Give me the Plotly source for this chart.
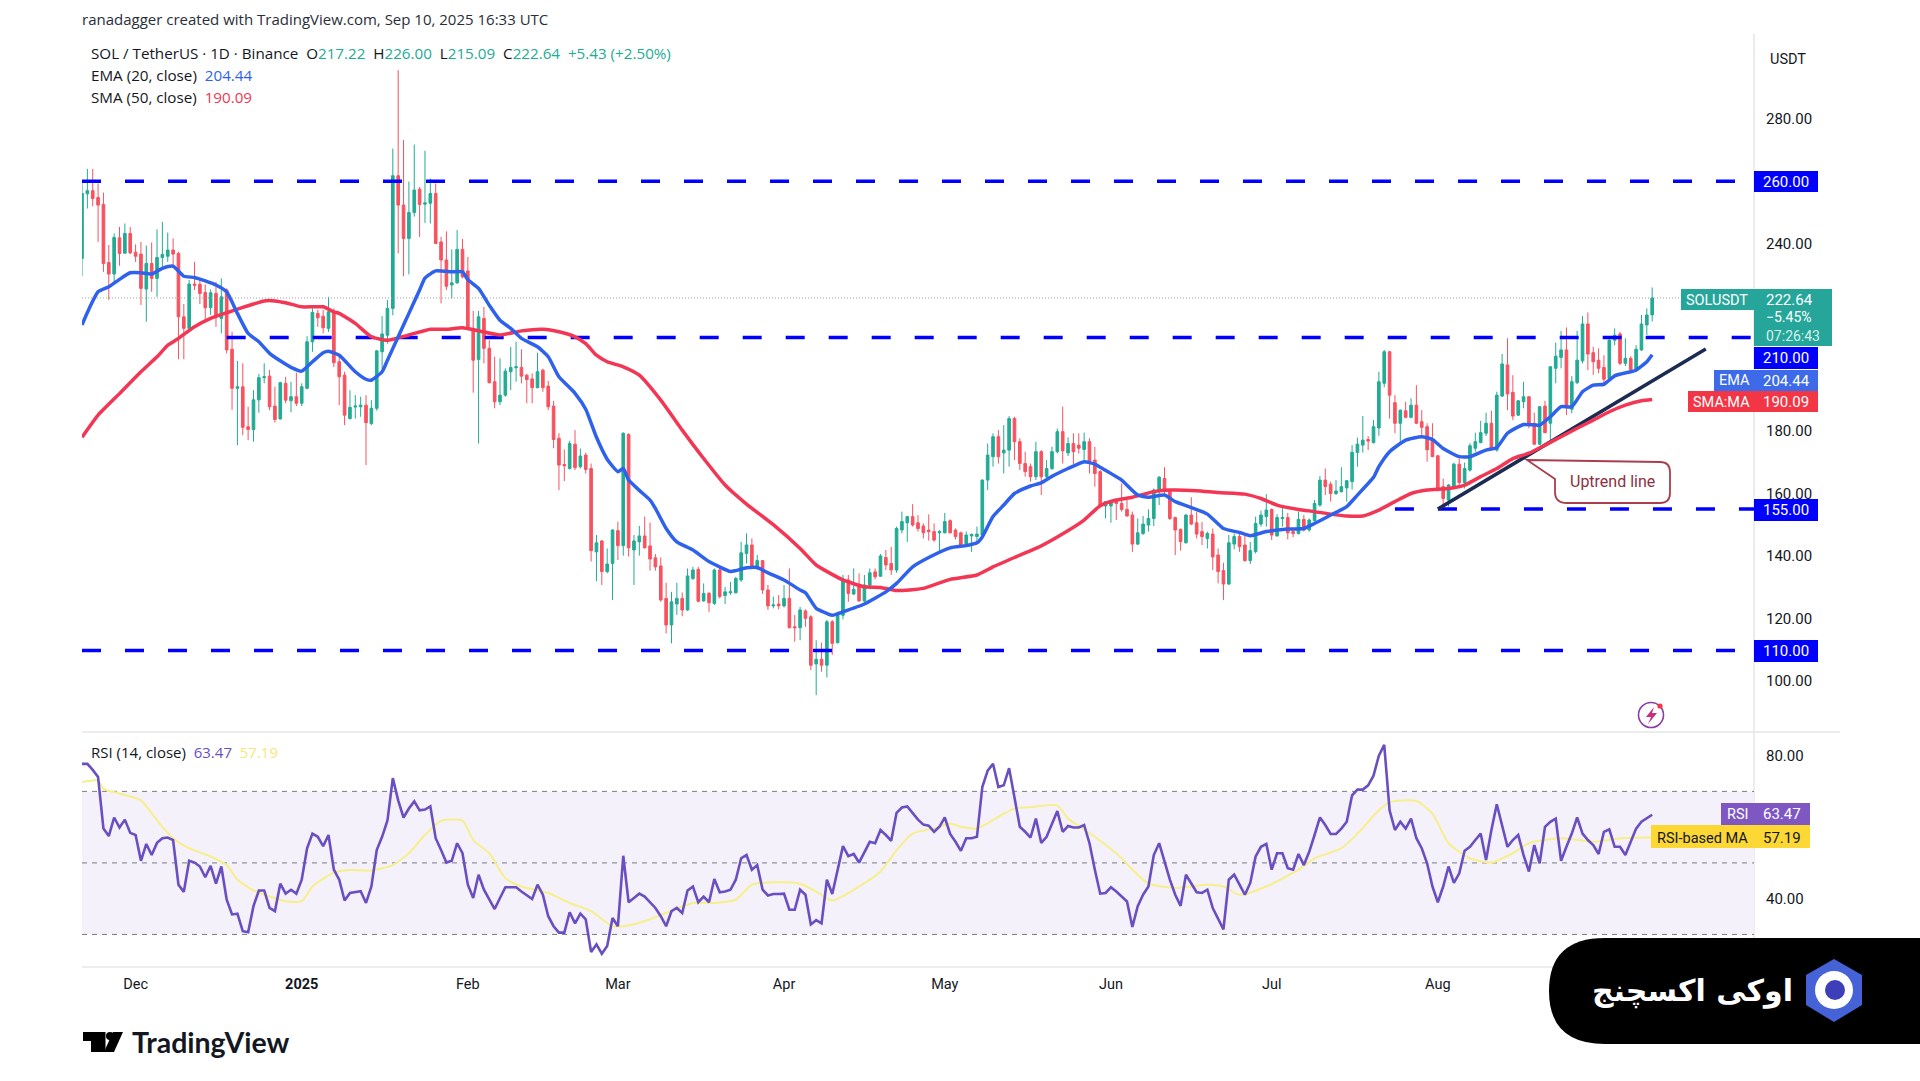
import pandas as pd
import plotly.graph_objects as go

first_day = "2024-11-21"
open_ = [
235.3,256,257,254.8,252.6,234,230.3,241.9,237,243.3,
237.3,236.7,225.5,233.7,228.9,235.6,236,238,236.9,216.6,
212.9,227.1,227,224.4,219.5,224.1,216.1,225.2,206.2,193.7,
194.2,181.4,180.5,190,197.1,197.6,188,183.9,195.3,189.7,
191,188.9,193.7,208.6,217.7,216.8,212.9,217.9,202.2,197.9,
184,187.7,187.8,188.3,182.4,187.3,205.4,210.7,219.3,261.8,
252.4,241.7,250,257.5,252.7,253,256.1,240.6,234.8,226.8,
227.5,238.2,231.3,212.9,202.9,216.1,206.5,195.8,189.4,191.5,
199,200.3,200.4,197.9,196.7,193.9,199.5,194.4,188,177.7,
169.3,168,175.8,168.6,172.3,168,141.3,144.8,135,137.6,
148.1,143.3,178.9,141.9,144.5,146.4,143.2,139.4,136.8,126.4,
117.9,124.6,126.4,122.7,132.8,135.7,125.6,128,124.8,135.5,
127.3,128.2,128.2,132.3,140.8,143.5,136.5,138.5,129.1,124,
124.6,124,126.4,117.3,117,122.4,120.5,105.4,106.9,105,
118.9,112.2,121,132.3,127.8,130.9,125.6,130.7,134.9,133.5,
139.5,137.6,135.5,148.3,150.6,152.6,150.6,149.6,148.3,147.8,
147.4,147.4,151.3,148.3,147.4,143.5,146.4,146.2,146.7,164.3,
171.8,178.2,173,173.9,184,176.6,169.6,168.6,165.4,173.4,
165.4,168,173.4,179.8,173,176,175.5,174.1,176.6,170.7,
167,156,156,157.9,156.8,154.9,153.1,143.8,147.2,149.9,
152,160.6,164.8,160.6,152.3,148.5,144.2,153.1,150.6,147.8,
145.6,147,140.3,135.3,131,143.8,146.2,143.5,138.5,141.4,
150.2,152.6,154.9,146.4,152,152.3,147.8,147.2,151.7,148.3,
151.3,156.3,164.3,163,160,160.6,161.8,163.8,173.1,175.5,
177.3,176.3,181,195.3,205.4,189.1,182.5,186.5,184.4,188.3,
183,181.4,177.3,172.1,162.2,157.9,162.2,169.4,163.5,167.5,
174.5,176.3,179.3,182.5,173.9,191.2,201.2,192.4,185.1,189.4,
191,182.5,175.8,188,182.5,200.1,203.6,206,187,195.5,
202.5,214.3,205.1,202.7,200.4,196.9,209.1,211.1,201.7,203.3,
199.5,206,214,217.22]
high = [
260,264,264,259.3,256.4,239.6,243.3,245.4,246.5,245.4,
239.8,240.6,239.4,240.4,244.6,247,243.6,241.7,237.4,220.7,
228.4,234.2,228.4,227,225.4,227.8,228.9,225.7,211.8,202.5,
201.7,187.8,193.1,198.3,201.7,199.6,194.2,195.8,197.4,195.8,
198.7,195.3,210.4,219.3,218.8,218.8,223,219.3,203.8,199,
193.1,191.5,191,191.5,189.9,205.9,216.8,222,270.5,295.6,
273.2,259.9,271.8,258.2,269.8,260.9,259.3,242.2,244,238.2,
244.4,241.5,235.8,218.5,218.5,219.8,209.1,203.8,203.3,200.1,
207,208.6,206.2,198.3,198.5,205.1,200,196.1,189.7,179.3,
174.1,176.9,180.3,174.4,173,169.6,146.7,145.1,142.4,148.5,
151,179.6,179.3,146.7,149.6,152.6,150.7,140.6,139.5,131.4,
128.5,131.4,128.3,136,136.5,136.5,131.2,128.5,136,136.2,
130.1,131.7,133.3,144.5,147.2,145.6,140.3,138.7,130.7,127,
127.5,130.7,136,121.1,123.7,122.9,121,113,112.2,119.5,
119.5,122.1,133.9,133.9,136,134.4,133.9,136,136,140.6,
141.9,142.9,149.4,154.2,152.6,156.6,153.1,150.4,153.3,150.4,
148.3,153.8,151.7,148.8,147.8,147.8,147.2,149.4,164.5,176,
179.3,180.3,181.9,184.8,184.6,177.7,173.4,169.6,176.6,173.9,
170.7,175,180.8,187.8,178,179.3,179.3,179.5,177.7,175,
167.5,157.4,157.9,158.4,163.2,157.9,154.2,152,152.8,154.9,
161.6,165.6,168.4,161.1,152.6,148.8,153.4,158.8,154.2,150.9,
147.8,148.8,142.4,137.8,146.7,147.2,147.8,146.7,144.5,152.6,
154.5,159.8,155.2,153.4,156.3,153.8,148.5,154.2,153.1,152,
157.9,165.6,168,163.8,164.3,168.4,164.3,175.5,177.9,184.8,
178.4,183.5,199,206,205.7,191.5,186.9,189.4,190.5,194.7,
186.7,182.5,182.5,172.3,164.8,163,169.9,171.2,169.9,176.1,
179.5,183.3,185.9,186.5,192.6,204.7,209.7,197.9,189.9,195.8,
191.2,185.9,188,189.7,200.8,208.3,212.1,213.2,197.6,212.1,
216.8,218,207,206.5,204.3,210.4,212.9,211.8,209.7,204,
207.5,217.2,219.3,226]
low = [
229.6,251.3,252,240.6,231,222,227.8,233,236.8,236.7,
234.2,220.4,215,224.6,223,232.6,234.2,233.2,203,203,
211.8,225.2,220.7,215.6,217.2,213.4,211.3,204.9,186.8,175.5,
178.7,177.1,176.6,185.9,195.3,186.7,182.7,183.7,188.9,186,
188,188,193.4,205.4,213.4,211.3,211.8,200.5,188.3,181.9,
183.7,184,184.6,169.1,181.9,186.5,200,208,217.1,236.9,
229.6,230.2,248.7,242.2,246.7,246.5,239.9,220.9,225.2,222.5,
227.1,228.9,212.3,192.3,176,201.7,195.3,187.3,188.3,191,
193.1,195.8,195.3,188.9,188.9,193.7,192.6,186.7,174.5,161.1,
164,167.7,167.5,168,166.4,138.2,131.9,130.7,134.4,125.9,
138.7,140.1,139.8,130.7,140.1,142.4,135.3,135.3,125.3,115.2,
112,121.1,120.7,122.4,132.3,125.1,125.3,122.1,124.3,126.4,
124.6,127.5,128,131.7,137.6,136,135.5,127.8,122.7,123.2,
122.9,123.5,116.8,112.5,113,117.3,103.4,95.4,102.9,101.1,
108.3,112,119.7,125.3,127.5,125.3,125.3,130.3,132.5,133.3,
135.5,133.9,134.6,147.2,144.5,149.4,147.8,145.6,144.9,144.5,
141.3,147.2,147.2,145.3,143.2,143.2,141.3,144,146.4,161.1,
168.6,169.6,166.4,168.6,170.7,167.5,165.4,163.8,164.3,159.5,
164.3,167.5,172.8,169.6,172,169.4,172.8,169.6,166.4,162.2,
155.9,152,150.6,151.5,154.2,152.6,141.3,143.5,146.7,147.8,
149.6,156.3,160,151.5,140.3,141.7,144,149.9,145.6,143.5,
142.4,135.5,131.2,125.9,130.7,142.1,141.3,138.1,137.4,140.8,
149.4,149.4,145.1,146.2,149.4,145.3,146,146.9,147.8,147.8,
151,155.8,159.5,157.4,159.5,160.3,157.4,161.3,168.6,173.1,
173.9,176,178.5,194,184,179.3,176,184.1,184.1,182.2,
178.2,170.2,171.8,160.6,155.2,155.8,161.6,161.6,161.6,167,
173.4,176.1,178.4,173.9,173.4,191,186.7,183.5,184.8,187.3,
180.9,175.5,175.5,179.3,177.1,195.3,200.1,185.1,185.7,195,
201.7,199.5,198,198.5,195,196.3,207.5,201.1,200.8,199.3,
199.3,205.7,210.8,215.09]
close = [
256.1,257,254.5,252.4,233.7,230.3,242,236.9,243.3,237.1,
236,225.7,233.7,228.9,235.6,236.6,238,236.7,216.6,212.9,
227.1,226.7,224.1,219.5,224.3,216.6,223,206,193.7,194.2,
181.2,180.5,190,197.1,197.4,187.8,183.7,195.5,189.9,191,
188.9,194.2,208.6,218,216.3,213.1,218.2,201.9,197.4,185.1,
187.6,188,188.3,182.7,187.3,205.7,211.1,219.3,261.8,252.4,
241.7,250,257.2,252.6,253.1,256.1,240.1,234.8,226.4,227.5,
238.2,229.4,212.9,202.7,216.6,206.5,195.5,189.4,191.5,199.2,
200.4,200.6,197.6,196.5,193.9,199,193.9,187.8,177.3,169.1,
168.9,176,168.3,172,167.7,141.7,144.2,135,137.4,148.3,
143.3,179.3,142.6,144.8,146.4,142.6,139,136.5,125.9,117.9,
125.3,126.4,122.7,133.6,135.5,125.5,128,125,135.5,127,
128.5,128.5,132.8,141,143.5,136.5,138.5,129.1,124,124.3,
124,126.4,117,117,122.7,120,105,106.9,105,118.9,
112,121,132.3,128,129.3,125.6,130.7,134.6,133.3,140,
137.1,135.5,148.8,151,152.6,149.9,148.8,147.4,147.8,145.1,
147.8,151,147.4,146.2,143.5,146.7,146.9,147,164.3,172.3,
178.2,171.8,173.9,184,176.6,169.6,167,165.4,173.4,165.4,
168,173.4,179.8,173.7,176,173.4,174.5,176.6,170.2,166.4,
156.3,157.4,157.4,156.8,154.9,152.8,143.8,147.4,150.2,152,
161.1,165.2,160.6,152,148.3,144.6,153.1,150.2,147,146.2,
147.2,139.7,135,131,144.2,146.2,143,138.5,141.7,150.4,
153.1,154.7,146.7,152.3,152.3,147.4,147.2,151.7,148.3,151.5,
156.8,164.3,162.2,160,160.8,162.2,164.1,173.2,175.8,177.1,
176.8,181.4,195.8,205.4,191.5,182.5,186.7,184.4,188.3,182.5,
181.2,174,171.8,161.6,158.4,162.7,169.4,163.5,168,175.3,
176.6,179.5,182.5,174.4,191.5,201.5,191.9,184.8,189.7,191,
182.5,175.8,187.8,179.5,200.6,204,206,187.8,195.8,202.7,
214.3,204.7,202.2,200.1,196.6,209.1,210.7,201.7,203.3,199.7,
206.2,214.3,217.2,222.64]

ema_day = [0,1,3,5,7,9,11,13,15,17,19,21,23,25,27,29,31,33,35,37,39,41,43,45,46,48,51,53,54,56,57,59,61,63,64,66,69,71,72,74,76,78,80,82,85,87,89,92,94,96,98,100,101,102,104,106,107,109,111,114,117,121,122,124,126,128,131,134,135,137,138,140,142,146,150,152,155,158,162,165,167,168,170,172,174,177,179,181,184,187,189,190,194,197,199,202,204,207,210,213,216,218,221,225,228,230,233,236,238,241,242,244,247,250,252,254,257,259,262,264,266,269,272,274,276,278,280,282,284,286,289,290,292,293]
ema_val = [214,218,224.6,226.2,228.6,230.7,230.7,230.3,232.1,232.8,229.6,229.2,228.1,226.8,224.6,217.7,211.3,208.6,204.9,202.5,200.4,199.2,202.2,205.1,205.6,204.3,199,196.6,196.3,199,202.7,210.2,217.7,225.2,229,231.3,231,231,228.5,225.7,220.3,215.5,212.9,209.7,207,203.8,197.4,192.1,187,178,171,167,168,164.3,161,157.9,155.2,148.8,144.5,141.9,138.2,135,135.3,136.2,136.3,134.6,132.3,129.1,128.2,123.2,122.3,121,122.1,124.6,128.5,131.2,136.5,139.5,142.6,143.3,144.2,146.1,152.6,156.3,160,162.4,163.4,165.5,168,170.2,169.4,168.4,164.3,159.5,158.8,159.5,157.4,155.5,153.4,148.8,147.5,146.5,147.8,148.6,148.8,150.4,153.1,155.8,159.5,165.2,168.6,173.4,177.1,178.2,177.3,174.4,171.8,171.8,173.9,174.7,179.3,182.1,181.9,184.6,187.8,187.8,192.6,194.7,195,197.7,199,199.5,202.2,204.44]
sma_day = [0,3,7,11,14,16,18,21,24,27,30,32,34,36,38,41,45,47,48,51,54,57,61,65,68,71,74,78,82,86,89,92,94,96,98,101,104,108,112,116,120,124,129,134,137,142,146,149,152,157,162,167,170,174,178,182,187,190,193,196,200,203,208,212,217,220,223,227,230,233,236,239,242,245,248,251,255,258,261,264,267,270,273,276,279,282,285,288,291,293]
sma_val = [178,185.1,192,199,203.8,207.5,209.7,213.4,216.1,217.9,219.6,220.7,221.7,221.7,221.1,219.8,219.8,218.2,217.7,214.5,210.2,209.1,210.8,212.6,212.6,213.1,212.1,210.8,212.1,212.6,211.8,210.2,208,204.3,202.2,200.6,197.9,189.9,180.3,171.2,162.7,156.6,150,142.4,137.1,132.3,130.1,129.9,128.9,129.6,132.5,133.9,136.5,139.5,142.4,146.1,151.5,156.1,157.9,158.8,160.6,161.1,160.9,160.3,159.8,158.4,156.3,154.9,154.2,153.4,152.8,152.8,154.7,157.4,160,161.1,161.6,162.7,165.4,168,171.2,172.9,175.5,178.2,180.9,183.5,186.2,188.3,189.7,190.09]
rsi = [
77.7,77.7,76,74,59.6,57.5,62.7,59.9,62.1,58.4,
57.8,50.6,55.3,52.2,55.6,56.9,57.1,56.4,43.9,41.9,
50.6,50.1,49,46,49.2,44.2,49,39.7,35.6,35.8,
30.9,30.6,37.9,42.3,42.3,37.4,36.5,44.2,41.4,42.5,
41.4,45.3,54.1,58.2,57.3,54.7,57.8,48.1,45.3,39.5,
41.6,41.9,42.1,38.8,43.4,53.6,57.3,61.9,73.7,67.5,
62.7,65.2,67.2,64.7,64.9,65.8,56.9,53.6,50.1,50.6,
55.5,52.7,43.9,40.2,46.7,42.5,39.7,37.1,40.2,43.2,
43.2,43.2,42,41,39.9,43.9,41.1,35.1,32.3,30.5,
30.5,36.2,33.1,35.8,34.2,25.1,27.2,24.6,26.8,34.6,
32.3,52,39,40.2,41.4,40.6,39,37.4,35.1,32.3,
36.5,37.4,36,42.3,43.4,39,40.6,39,45.5,41.8,
42,42.5,45.3,51.3,52.2,48.1,49.4,42.5,40.9,41.3,
41.3,41.4,36.9,36.9,42.5,41.1,32.8,34,33.1,45.3,
41.3,48.1,54.7,51.9,52.5,50.1,53.1,55.9,55.5,59.2,
57.8,56.2,64,65.5,65.8,64,62.1,60.7,60.4,58.7,
60.1,62.7,58.1,55.9,53.4,56.9,56.9,57.3,71.2,75.8,
77.7,71.2,71.7,76.5,68.4,60.1,58.7,57.1,62.4,55.6,
57.3,61,64.5,58.7,60.3,59.9,59.9,60.6,55.5,48.1,
41.4,41.6,43.2,42,40.6,39.2,32.1,37.9,41.1,43.4,
52.2,55.5,50.4,45.3,41.1,38,46.7,44.4,41.8,41.6,
42.5,37.4,34.2,31.4,45.3,46.7,43.9,41.1,44.4,51.8,
54.5,55.3,48.1,52.7,52.7,48.5,48.1,52.5,49.4,53.1,
57.8,62.7,60.6,58.1,58.1,59.6,61.5,68.9,70.5,70.5,
71.7,74.4,80,83,64.7,59.2,61.5,59.6,62.4,56.9,
54.1,49.9,43.4,39,43.4,49,44.4,47.1,53.4,54.5,
56.4,58.2,50.8,59.2,66.4,60.1,54.5,56.4,57.8,52.2,
47.6,55,49.9,60.1,61.5,62.4,50.6,54.5,58.2,62.7,
58.2,56.4,55,52.5,58.7,59.4,54.5,54.5,52.2,55.9,
59.6,61.5,62.4,63.47]
rsi_ma_day = [0,3,4,7,11,14,17,20,24,27,29,32,35,38,41,43,47,50,54,58,61,64,67,71,73,76,79,82,87,91,95,99,101,105,109,114,118,122,125,130,134,137,140,145,149,152,155,159,162,164,167,171,174,177,182,184,189,194,196,199,204,210,213,216,221,227,230,235,238,242,244,249,252,255,259,263,267,270,276,282,287,293]
rsi_ma_val = [72.6,73,70.7,69.4,67.5,61.9,56.9,54.1,51.8,49.4,45.3,42.3,40.6,39.3,39.3,43.4,47.3,48,47.9,49.4,52.7,57.8,61.8,61.8,56.4,52.7,45.7,43.4,41.6,38.8,36.5,32.3,32.3,33.7,36,38.8,38.8,39.7,43.9,44.6,44.2,42,39.5,43.4,47.6,53.6,58.2,59.6,61,60.1,59.6,62.9,65.2,65.6,66.1,62.4,57.3,51.3,48.1,44.2,43,43.9,43.4,41.1,43.4,48.1,51.3,54.1,58.2,64.7,67,67.3,63.8,55.5,51.3,50.1,52.7,55.5,56.9,55.9,56.9,57.19]

price_ticks = [100, 120, 140, 160, 180, 240, 280]
rsi_ticks = [40, 80]
rsi_bands = [70, 50, 30]
month_days = ["2024-12-01", "2025-01-01", "2025-02-01", "2025-03-01", "2025-04-01", "2025-05-01", "2025-06-01", "2025-07-01", "2025-08-01"]
month_labels = ["Dec", "<b>2025</b>", "Feb", "Mar", "Apr", "May", "Jun", "Jul", "Aug"]
level_values = [260, 210, 155, 109.7]
level_starts = ["2024-11-21", "2024-12-18", "2025-07-24", "2024-11-21"]
last_close = 222.64
trend_days = ["2025-08-01", "2025-09-20"]
trend_prices = [155, 206.3]

dates = pd.date_range(first_day, periods=len(close))
axis_end = "2025-09-29"
UP, DOWN = "#22ab94", "#f7525f"
BLUE, EMA_C, SMA_C = "#0000ff", "#2f62ec", "#f23654"
RSI_C, MA_C = "#6a4fc0", "#f7ef8a"
FONT = "Roboto"
LABEL_FONT = "Open Sans"
W, H = 1920, 1081
fx = lambda x: x / W
fy = lambda y: 1 - y / H

fig = go.Figure()
fig.add_trace(go.Candlestick(x=dates, open=open_, high=high, low=low, close=close,
    increasing=dict(line=dict(color=UP, width=1), fillcolor=UP),
    decreasing=dict(line=dict(color=DOWN, width=1), fillcolor=DOWN),
    xaxis="x", yaxis="y", showlegend=False))
fig.add_trace(go.Scatter(x=[dates[0], dates[-1] + pd.Timedelta(days=5)], y=[last_close, last_close], mode="lines",
    line=dict(color="#9aa8a5", width=1, dash="1px,2px"), xaxis="x", yaxis="y"))
for value, start in zip(level_values, level_starts):
    fig.add_trace(go.Scatter(x=[start, axis_end], y=[value, value], mode="lines",
        line=dict(color=BLUE, width=3.5, dash="19px,24px"), xaxis="x", yaxis="y"))
fig.add_trace(go.Scatter(x=trend_days, y=trend_prices, mode="lines",
    line=dict(color="#1c2b52", width=3.5), xaxis="x", yaxis="y"))
fig.add_trace(go.Scatter(x=dates[sma_day], y=sma_val, mode="lines",
    line=dict(color=SMA_C, width=3.5, shape="spline", smoothing=0.5), xaxis="x", yaxis="y"))
fig.add_trace(go.Scatter(x=dates[ema_day], y=ema_val, mode="lines",
    line=dict(color=EMA_C, width=3.5, shape="spline", smoothing=0.5), xaxis="x", yaxis="y"))
fig.add_trace(go.Scatter(x=dates[rsi_ma_day], y=rsi_ma_val, mode="lines",
    line=dict(color=MA_C, width=2, shape="spline", smoothing=0.6), xaxis="x2", yaxis="y2"))
fig.add_trace(go.Scatter(x=dates, y=rsi, mode="lines",
    line=dict(color=RSI_C, width=2.6), xaxis="x2", yaxis="y2"))

shapes, notes = [], []

def rect(x0, y0, x1, y1, color):
    shapes.append(dict(type="rect", xref="paper", yref="paper", x0=fx(x0), x1=fx(x1), y0=fy(y0), y1=fy(y1),
                       fillcolor=color, line=dict(width=0), layer="above"))

def text(x, y, s, size=14, color="#131722", anchor="left", family=FONT):
    notes.append(dict(xref="paper", yref="paper", x=fx(x), y=fy(y), text=s, showarrow=False, xanchor=anchor,
                      yanchor="middle", font=dict(family=family, size=size, color=color), borderpad=0))

def path(points_px, fill=None, line=None, width=0, layer="above"):
    d = ""
    for cmd in points_px:
        if isinstance(cmd, str):
            d += cmd + " "
        else:
            d += f"{fx(cmd[0]):.5f},{fy(cmd[1]):.5f} "
    shapes.append(dict(type="path", xref="paper", yref="paper", path=d.strip(), fillcolor=fill,
                       line=dict(color=line, width=width), layer=layer))

def circle(cx, cy, r, fill=None, line=None, width=0):
    shapes.append(dict(type="circle", xref="paper", yref="paper", x0=fx(cx - r), x1=fx(cx + r),
                       y0=fy(cy + r), y1=fy(cy - r), fillcolor=fill, line=dict(color=line, width=width), layer="above"))

# RSI zone and bands
shapes.append(dict(type="rect", xref="x2", yref="y2", x0=first_day, x1=axis_end, y0=rsi_bands[2], y1=rsi_bands[0],
                   fillcolor="#f4f1fb", line=dict(width=0), layer="below"))
for b in rsi_bands:
    shapes.append(dict(type="line", xref="x2", yref="y2", x0=first_day, x1=axis_end, y0=b, y1=b,
                       line=dict(color="#787b86", width=1, dash="5px,5px"), layer="below"))
# separators
for y in (732, 967):
    shapes.append(dict(type="line", xref="paper", yref="paper", x0=fx(82), x1=fx(1840), y0=fy(y), y1=fy(y),
                       line=dict(color="#e6e6ea", width=1.5), layer="below"))
shapes.append(dict(type="line", xref="paper", yref="paper", x0=fx(1754), x1=fx(1754), y0=fy(34), y1=fy(967),
                   line=dict(color="#e6e6ea", width=1.5), layer="below"))

# price tags
TAG_R = 1818
rect(1754, 171, TAG_R, 192, BLUE); text(1786, 182, "260.00", 15, "#fff", "center")
rect(1681, 289, 1754, 310, "#26a69a"); text(1717, 300, "SOLUSDT", 14.5, "#fff", "center")
rect(1754, 289, 1832, 346, "#26a69a")
text(1765, 299.5, "222.64", 15, "#fff"); text(1765, 317.5, "\u22125.45%", 14, "#fff"); text(1765, 335.5, "07:26:43", 14, "#d6f0ec")
rect(1754, 347, TAG_R, 369, BLUE); text(1786, 358, "210.00", 15, "#fff", "center")
rect(1714, 370, 1754, 391, "#3c6ae8"); text(1734, 380.5, "EMA", 14.5, "#fff", "center")
rect(1754, 370, TAG_R, 391, "#3c6ae8"); text(1786, 380.5, "204.44", 15, "#fff", "center")
rect(1688, 391, 1754, 412, "#f23645"); text(1721, 402, "SMA:MA", 14.5, "#fff", "center")
rect(1754, 391, TAG_R, 412, "#f23645"); text(1786, 402, "190.09", 15, "#fff", "center")
rect(1754, 499, TAG_R, 521, BLUE); text(1786, 510, "155.00", 15, "#fff", "center")
rect(1754, 640, TAG_R, 662, BLUE); text(1786, 651, "110.00", 15, "#fff", "center")
rect(1721, 803, 1754, 825, "#7e57c2"); text(1737.5, 814, "RSI", 14.5, "#fff", "center")
rect(1754, 803, 1810, 825, "#7e57c2"); text(1782, 814, "63.47", 15, "#fff", "center")
rect(1651, 825, 1754, 848, "#fdd835"); text(1702, 838, "RSI-based MA", 14.5, "#131722", "center")
rect(1754, 825, 1810, 848, "#fdd835"); text(1782, 838, "57.19", 15, "#131722", "center")

# callout
path(["M", (1527, 460), "L", (1660, 462), "Q", (1670, 462), (1670, 472), "L", (1670, 493), "Q", (1670, 503), (1660, 503),
      "L", (1567, 503), "Q", (1555, 503), (1555, 492), "L", (1555, 479), "Z"], fill="#ffffff", line="#a93f4e", width=1.8)
text(1612.5, 481, "Uptrend line", 16, "#8f2f3f", "center")

# lightning badge
circle(1651, 715, 12.5, fill="#ffffff", line="#8a3fa6", width=1.6)
path(["M", (1654, 707), "L", (1646, 717), "L", (1651, 717), "L", (1648, 724), "L", (1657, 713), "L", (1652, 713), "Z"],
     fill="#c2307e")
circle(1660, 706, 2.6, fill="#f23645")

# texts
text(81, 19, "ranadagger created with TradingView.com, Sep 10, 2025 16:33 UTC", 15, "#2a2e39", "left", LABEL_FONT)
g = UP
text(90, 53, f'SOL / TetherUS \u00b7 1D \u00b7 Binance  O<span style="color:{g}">217.22</span>  H<span style="color:{g}">226.00</span>  '
             f'L<span style="color:{g}">215.09</span>  C<span style="color:{g}">222.64</span>  <span style="color:{g}">+5.43 (+2.50%)</span>', 15.2, "#131722", "left", LABEL_FONT)
text(90, 75, f'EMA (20, close)  <span style="color:{EMA_C}">204.44</span>', 15.2, "#131722", "left", LABEL_FONT)
text(90, 97, f'SMA (50, close)  <span style="color:{SMA_C}">190.09</span>', 15.2, "#131722", "left", LABEL_FONT)
text(90, 752, f'RSI (14, close)  <span style="color:{RSI_C}">63.47</span>  <span style="color:#f3e87a">57.19</span>', 15, "#131722", "left", LABEL_FONT)
text(1788, 59, "USDT", 14.5, "#131722", "center")

# TradingView logo
path(["M", (83, 1032), "L", (105.5, 1032), "L", (105.5, 1052), "L", (91, 1052), "L", (91, 1041), "L", (83, 1041), "Z"], fill="#000000")
circle(110, 1036, 4, fill="#000000")
path(["M", (123, 1032), "L", (114, 1052), "L", (104, 1052), "L", (113, 1032), "Z"], fill="#000000")
text(131, 1042, "<b>TradingView</b>", 28.5, "#131722", "left", "Lato")

# exchange badge
path(["M", (1920, 938), "L", (1605, 938), "Q", (1549, 938), (1549, 991), "Q", (1549, 1044), (1605, 1044), "L", (1920, 1044), "Z"], fill="#000000")
text(1692, 991, "<b>اوکی اکسچنج</b>", 30, "#ffffff", "center", "DejaVu Sans")
path(["M", (1834, 959), "L", (1862, 975), "L", (1862, 1005), "L", (1834, 1022), "L", (1806, 1005), "L", (1806, 975), "Z"], fill="#4563d6")
circle(1834, 990, 19, fill="#ffffff")
circle(1835, 990, 10, fill="#3d3fb8")

fig.update_layout(
    width=W, height=H, margin=dict(l=0, r=0, t=0, b=0), paper_bgcolor="#ffffff", plot_bgcolor="rgba(0,0,0,0)",
    showlegend=False, shapes=shapes, annotations=notes, font=dict(family=FONT, size=14, color="#131722"),
    xaxis=dict(domain=[fx(82), fx(1754)], range=[first_day, axis_end], type="date", anchor="y", showticklabels=False,
               showgrid=False, zeroline=False, ticks="", rangeslider=dict(visible=False)),
    xaxis2=dict(domain=[fx(82), fx(1754)], range=[first_day, axis_end], type="date", anchor="y2", tickmode="array",
                tickvals=month_days, ticktext=month_labels, showgrid=False, zeroline=False, ticks="outside", ticklen=4,
                tickcolor="rgba(0,0,0,0)", tickfont=dict(family=FONT, size=14.5, color="#131722")),
    yaxis=dict(domain=[fy(732), fy(34)], range=[83.6, 307.2], side="right", anchor="x", tickmode="array",
               tickvals=price_ticks, ticktext=[f"{v:.2f}" for v in price_ticks], showgrid=False, zeroline=False,
               ticks="outside", ticklen=8, tickcolor="rgba(0,0,0,0)", tickfont=dict(family=FONT, size=15, color="#131722")),
    yaxis2=dict(domain=[fy(967), fy(732)], range=[20.9, 86.6], side="right", anchor="x2", tickmode="array",
                tickvals=rsi_ticks, ticktext=[f"{v:.2f}" for v in rsi_ticks], showgrid=False, zeroline=False,
                ticks="outside", ticklen=8, tickcolor="rgba(0,0,0,0)", tickfont=dict(family=FONT, size=15, color="#131722")),
)
fig.write_html("out.html", post_script="document.body.style.margin='0';", config=dict(displayModeBar=False))
